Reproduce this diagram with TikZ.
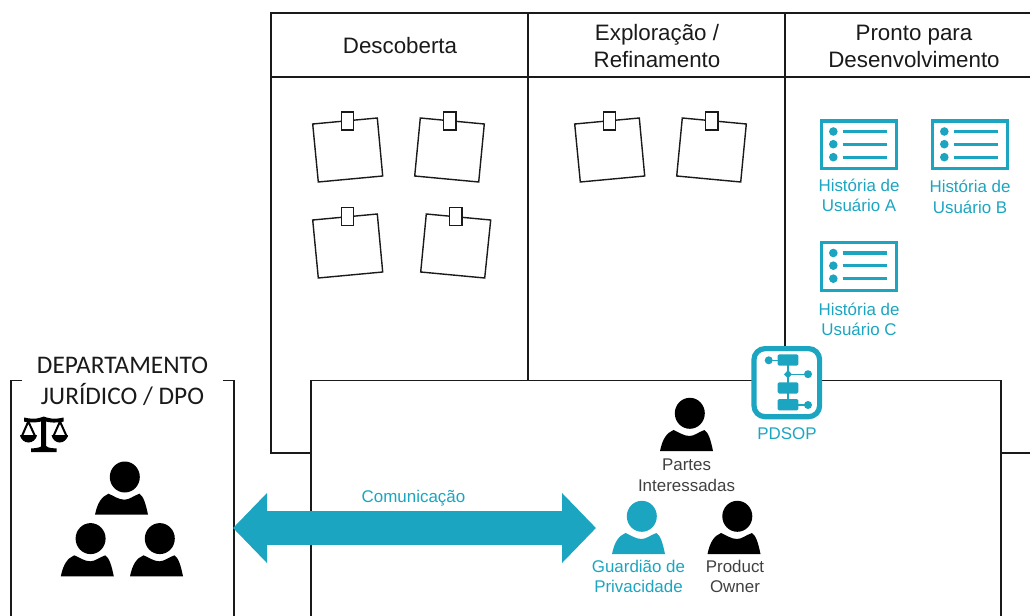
\documentclass[tikz,border=0pt]{standalone}
\usepackage{fontspec}
\setmainfont{Liberation Sans}
\newfontfamily\carl{Carlito}
\usetikzlibrary{arrows.meta}
\definecolor{teal1}{HTML}{1BA5C0}
\definecolor{ink}{HTML}{1A1A1A}
\definecolor{greytxt}{HTML}{404040}
\tikzset{
  frameline/.style={draw=ink,line width=1.1pt},
  noteline/.style={draw=ink,line width=1.05pt,fill=white,line join=miter},
  title/.style={align=center,text=ink,inner sep=0pt,font=\fontsize{16.75}{20.25}\selectfont},
  dept/.style={align=center,text=ink,inner sep=0pt,font=\carl\fontsize{19}{23.25}\selectfont},
  lbl/.style={align=center,text=teal1,inner sep=0pt,font=\fontsize{12.7}{15.5}\selectfont},
  lblg/.style={lbl,text=greytxt},
  commarrow/.style={draw=teal1,line width=25.5pt,
    {Triangle[length=25.5pt,width=51pt,fill=teal1]}-{Triangle[length=25.5pt,width=51pt,fill=teal1]}}
}
\newcommand\personicon[3]{%
  \begin{scope}[shift={(#1,#2)}]
    \fill[#3] (-26.5,0) .. controls (-24,-12) and (-20,-18) .. (-13,-21)
      .. controls (-8,-19) and (-3,-15) .. (3,-15)
      .. controls (8,-15) and (12,-19) .. (18,-21)
      .. controls (22,-18) and (24,-12) .. (26.5,0) -- cycle;
    \fill[#3] (3.3,-37.7) ellipse (15 and 15.5);
  \end{scope}}
\newcommand\stickynote[6]{%
  \draw[noteline] #1 -- #2 -- #3 -- #4 -- cycle;
  \draw[noteline] (#5-6.2,#6-9) rectangle (#5+6.2,#6+9);}
\newcommand\storycard[2]{%
  \begin{scope}[shift={(#1,#2)}]
    \draw[teal1,line width=2.5pt,fill=white] (1.6,1.6) rectangle (76.4,49.2);
    \foreach \yy in {12,24.7,37.7}{
      \fill[teal1] (13.3,\yy) circle (4.3);
      \draw[teal1,line width=2.5pt] (22.7,\yy) -- (67,\yy);
    }
  \end{scope}}
\begin{document}
\begin{tikzpicture}[x=0.75pt,y=-0.75pt]
\useasboundingbox (0,0) rectangle (1030,616);
% board
\draw[frameline] (1030,13) -- (271,13) -- (271,453) -- (311,453);
\draw[frameline] (271,77) -- (1030,77);
\draw[frameline] (528,13) -- (528,380);
\draw[frameline] (785,13) -- (785,380);
\draw[frameline] (1001,453) -- (1030,453);
% team box
\draw[frameline] (311,616) -- (311,380.5) -- (1001,380.5) -- (1001,616);
% legal box
\draw[frameline] (22,380.5) -- (11,380.5) -- (11,616);
\draw[frameline] (222.5,380.5) -- (234,380.5) -- (234,616);
% column titles
\node[title] (t1) at (400,45.5) {Descoberta};
\node[title] (t2) at (657,46.5) {Exploração /\\Refinamento};
\node[title] (t3) at (914,46.5) {Pronto para\\Desenvolvimento};
% notes
\stickynote{(312.7,124)}{(377.3,118)}{(382.7,176)}{(318.3,182)}{347.5}{121}
\stickynote{(420.3,118)}{(484.3,124)}{(478.7,182)}{(414.7,176)}{449.7}{121}
\stickynote{(312.7,220)}{(377.3,214)}{(382.7,272)}{(318.3,278)}{347.5}{216.7}
\stickynote{(426.3,214)}{(490.7,220)}{(484.7,278)}{(420.7,272)}{455.8}{216.7}
\stickynote{(574.7,124)}{(639.3,118)}{(644.7,176)}{(580.3,182)}{609.5}{121}
\stickynote{(682.3,118)}{(746.3,124)}{(740.7,182)}{(676.7,176)}{711.7}{121}
% story cards
\storycard{820}{119.5}
\storycard{931}{119.5}
\storycard{820}{241}
\node[lbl] (a) at (859,195.5) {História de\\Usuário A};
\node[lbl] (b) at (970,197) {História de\\Usuário B};
\node[lbl] (c) at (859,319.5) {História de\\Usuário C};
% PDSOP icon
\draw[teal1,line width=3.9pt,fill=white,rounded corners=11pt*0.75] (754,348.6) rectangle (819.6,416.7);
\draw[teal1,line width=0.9pt] (768.7,360.3) -- (788,360.3) -- (788,405) -- (808,405);
\draw[teal1,line width=0.9pt] (788,374.2) -- (808,374.2);
\fill[teal1] (768.7,360.3) circle (4);
\fill[teal1] (808,374.2) circle (4);
\fill[teal1] (808,405) circle (4);
\fill[teal1,rounded corners=1pt] (777.7,354.3) rectangle (798.3,365.7);
\fill[teal1,rounded corners=1pt] (777.7,382.3) rectangle (798.3,393.5);
\fill[teal1,rounded corners=1pt] (777.7,399) rectangle (798.3,410.3);
\fill[teal1] (784,374.3) -- (788,370.2) -- (792,374.3) -- (788,378.4) -- cycle;
\node[lbl] (pdsop) at (787,433.5) {PDSOP};
% people
\personicon{686.5}{451}{black}
\personicon{638.5}{554}{teal1}
\personicon{734}{554}{black}
\personicon{121.5}{514.7}{black}
\personicon{87.3}{576.3}{black}
\personicon{156.5}{576.3}{black}
\node[lblg] (partes) at (686.5,475) {Partes\\Interessadas};
\node[lbl] (guard) at (638.5,576.5) {Guardião de\\Privacidade};
\node[lblg] (po) at (735,576.5) {Product\\Owner};
% department title
\node[dept] (dpt) at (122.5,381) {DEPARTAMENTO\\JURÍDICO / DPO};
% scales
\fill[black] (24,417.5) .. controls (35,420) and (40,418) .. (43.7,416.5)
  .. controls (48,418) and (53,420) .. (63.5,417.5) -- (63.5,421.6)
  .. controls (53,423.5) and (48,422) .. (46.2,421.5) -- (46.2,446)
  .. controls (46.5,447) and (48,448) .. (56.7,448.5) -- (56.7,452) -- (31,452) -- (31,448.5)
  .. controls (39,448) and (41,447) .. (41.2,446) -- (41.2,421.5)
  .. controls (38,422) and (33,423.5) .. (24,421.6) -- cycle;
\draw[black,line width=1.5pt] (22,436) -- (28.3,421.5) -- (35,436) -- cycle;
\draw[black,line width=1.5pt] (53.5,436) -- (60,421.5) -- (66.5,436) -- cycle;
\fill[black] (20,435) .. controls (22,445) and (35,445) .. (37,435) -- cycle;
\fill[black] (51.5,435) .. controls (53.5,445) and (66,445) .. (68,435) -- cycle;
% communication arrow
\coordinate (legalEdge) at (233,528);
\coordinate (guardEdge) at (596,528);
\draw[commarrow] (legalEdge) -- (guardEdge);
\node[lbl] (comm) at (413.5,498) {Comunicação};
\end{tikzpicture}
\end{document}
